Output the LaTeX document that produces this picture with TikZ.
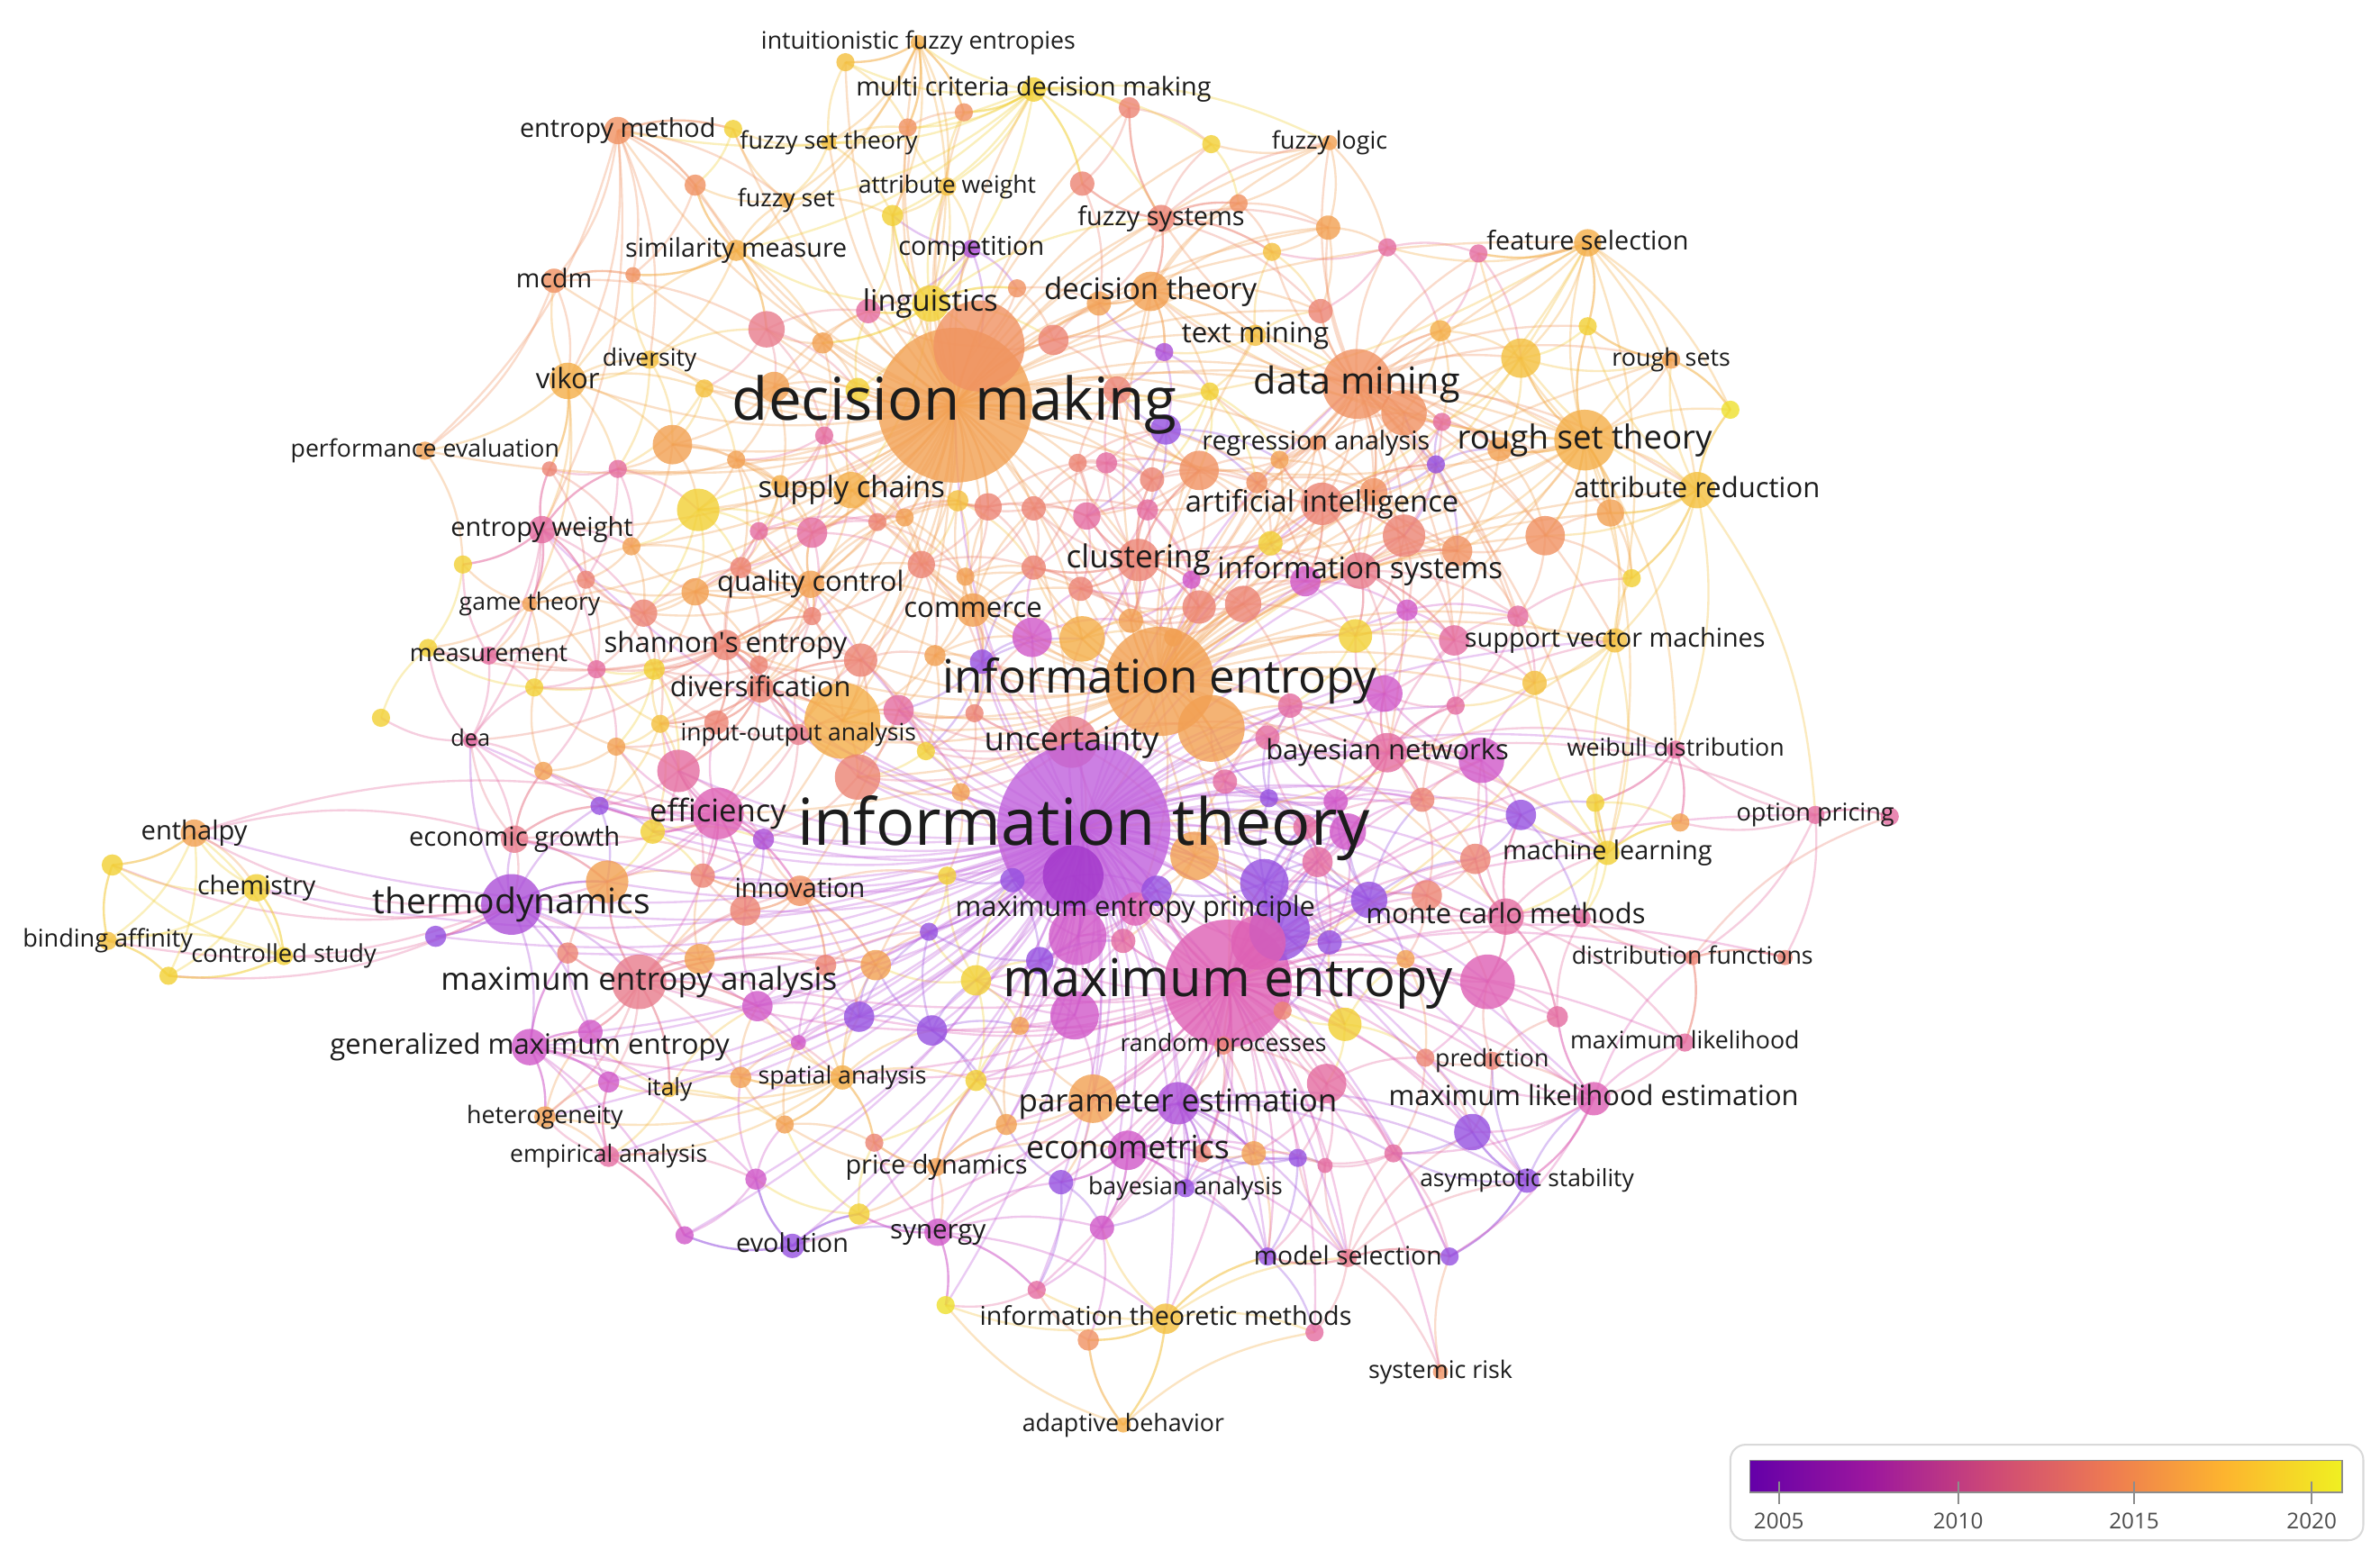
\documentclass[tikz,border=0pt]{standalone}
\usepackage{fontspec}
\usepackage{graphicx}
\setmainfont{Open Sans}
\definecolor{vA}{HTML}{9550E0}
\definecolor{vB}{HTML}{AC4FD8}
\definecolor{vC}{HTML}{C060DC}
\definecolor{vD}{HTML}{A236CA}
\definecolor{mA}{HTML}{D058C8}
\definecolor{mB}{HTML}{DE60B4}
\definecolor{kA}{HTML}{E46CA0}
\definecolor{kB}{HTML}{E87C8C}
\definecolor{rA}{HTML}{EC8474}
\definecolor{rB}{HTML}{F09262}
\definecolor{oA}{HTML}{F2A052}
\definecolor{oB}{HTML}{F4AE48}
\definecolor{yA}{HTML}{F4C03E}
\definecolor{yB}{HTML}{F2D034}
\definecolor{yC}{HTML}{EEE02E}
\definecolor{lgA}{HTML}{6400A8}
\definecolor{lgB}{HTML}{9C179E}
\definecolor{lgC}{HTML}{CC4778}
\definecolor{lgD}{HTML}{ED7953}
\definecolor{lgE}{HTML}{FDB42F}
\definecolor{lgF}{HTML}{F0F021}
\definecolor{txt}{HTML}{1C1C1C}
\pgfdeclarehorizontalshading{plasma}{100bp}{color(0bp)=(lgA); color(25bp)=(lgA); color(35bp)=(lgB); color(45bp)=(lgC); color(55bp)=(lgD); color(65bp)=(lgE); color(75bp)=(lgF); color(100bp)=(lgF)}
\pgfdeclarelayer{edgelayer}
\pgfsetlayers{edgelayer,main}
\tikzset{
  dot/.style={circle, inner sep=0pt, outer sep=0pt, draw=none, fill opacity=0.8},
  lab/.style={inner sep=0pt, outer sep=0pt, text=txt, anchor=center},
  edge/.style={line width=1.4pt, opacity=0.33},
}
\newcommand{\lb}[3]{\node[lab] (#1-t) at (#1.center) {\resizebox{#2pt}{!}{#3\vphantom{lg}}};}
\newcommand{\hub}[3]{\foreach \t in {#3}{\draw[edge, draw=#2] (#1.center) to[bend left=16] (\t.center);}}
\def\allnodes{%
ifent/605/28/5/oB, mcd/681/59/8/yB, entm/407/86/9/rB, fst/546/94/5/yA, flog/876/94/5/oA,
fset/518/132/5/oB, attw/624/123/6/yA, fsys/765/144/9/rA, simm/485/165/7/oB, comp/640/164/6/vB,
fsel/1046/160/9/oB, mcdm/365/185/8/rB, dtheory/758/192/13/oA, ling/613/200/12/yB, tmin/827/221/7/yA,
div/428/237/6/yA, rsets/1101/237/6/oA, vikor/374/251/12/oB, dm/629/267/51/oA, dmin/894/253/23/rB,
rega/867/292/5/rB, rst/1044/290/20/oB, perf/280/297/6/oA, supc/561/323/12/oB, attr/1118/323/12/yA,
ai/871/332/14/rA, entw/357/349/9/kA, clus/750/369/14/rA, isys/896/376/12/kB, qc/534/385/9/oA,
game/349/398/5/oA, comm/641/402/11/oA, svm/1064/422/8/yA, meas/322/432/6/kA, shan/478/425/10/rA,
ie/764/449/36/oA, divers/501/454/9/rA, ioa/526/484/7/kB, unc/706/489/17/kB, dea/310/488/5/kA,
bnet/914/496/13/kA, weib/1104/494/6/kA, eff/473/536/17/mB, it/714/546/57/vC, opt/1196/537/6/kA,
enth/128/549/9/oA, egrow/339/553/9/kB, ml/1059/562/8/yB, chem/169/585/9/yB, thermo/337/596/20/vB,
innov/527/587/10/rB, mep/748/599/11/mB, mcm/992/604/12/kA, bind/71/620/6/yA, cstudy/187/630/6/yB,
dfun/1115/631/5/rA, mea/421/647/18/kB, me/809/648/42/mB, gme/349/690/12/mA, rproc/806/689/6/rA,
mlik/1110/687/6/kA, pred/983/699/6/rA, italy/441/718/5/yA, spat/555/710/8/oB, mle/1050/724/11/mB,
pest/776/727/14/vB, het/359/736/7/oA, econ/743/758/13/mA, emp/401/762/7/kA, pdyn/617/769/6/oA,
asym/1006/778/8/vA, bana/781/783/6/vA, syn/618/812/9/mA, evol/522/821/8/vA, msel/888/829/6/kB,
itm/768/869/10/yA, srisk/949/904/5/rB, adapt/740/939/5/oB,
u1/557/41/6/yA, u2/483/85/6/yB, u3/598/84/6/rB, u4/635/74/6/rB, u5/744/71/7/rA, u6/798/95/6/yB,
u7/458/122/7/rB, u8/588/142/7/yB, u9/713/121/8/rA, u10/816/134/6/rB, u11/875/150/8/oA, u12/914/163/6/kA,
u13/974/167/6/kA, u14/838/166/6/yA, u15/670/190/6/rB, u16/694/224/10/rA, u17/542/226/7/oA, u18/505/217/12/kB,
u19/870/205/8/rA, u20/767/232/6/vB, u21/797/258/6/yB, u22/949/218/7/oB, u23/1046/215/6/yB, u24/1002/236/13/yA,
u25/1140/270/6/yC, u26/645/228/30/rB, u27/417/181/5/rB, u30/510/255/10/oA, u31/464/256/6/yA, u32/543/287/6/kA,
u33/443/293/13/oA, u34/485/303/6/oA, u35/407/309/6/kA, u36/362/309/5/rA, u37/460/336/14/yB, u38/514/319/6/oB,
u39/500/350/6/kA, u40/535/351/10/kA, u41/578/344/6/rA, u42/596/341/6/oA, u43/651/334/9/rA, u44/681/335/8/rA,
u45/710/305/6/rA, u46/729/305/7/kA, u47/759/316/8/rA, u48/790/310/13/rB, u49/768/283/10/vA, u50/828/318/7/rB,
u51/843/303/6/oA, u52/946/306/6/vA, u53/950/278/6/kA, u54/925/272/15/rB, u55/988/296/8/oA, u56/1018/353/13/rB,
u57/1061/338/9/oA, u58/960/363/10/rB, u59/925/353/14/rA, u60/905/324/9/rB, u61/736/257/9/rA, u62/565/257/8/yB,
u63/572/205/8/kA, u64/724/200/8/oA, u65/631/330/7/yA, u66/716/340/9/kA, u67/756/336/7/kA, u68/458/390/9/oA,
u69/416/360/6/oA, u70/424/404/9/rA, u71/386/382/6/rA, u72/305/372/6/yB, u73/488/374/7/rA, u74/607/372/9/rA,
u75/636/380/6/oA, u76/567/435/11/rA, u77/535/406/6/rA, u78/500/438/6/rA, u79/472/476/8/rA, u80/435/477/6/yA,
u81/431/441/7/yB, u82/393/441/6/kA, u83/406/492/6/oA, u84/358/508/6/oA, u85/251/473/6/yB, u86/616/432/7/oA,
u87/647/436/8/vA, u88/642/470/6/rA, u89/555/475/25/oB, u90/592/468/10/kA, u91/610/495/6/yB, u92/633/522/6/oA,
u93/565/512/15/rA, u94/447/508/14/kA, u95/395/531/6/vA, u96/430/548/8/yB, u97/503/553/7/vB,
u100/707/577/20/vD, u101/787/564/16/oA, u102/710/617/19/mA, u103/708/669/16/mA, u104/843/613/20/vA,
u105/833/582/16/vA, u106/902/593/12/vA, u107/829/621/18/mB, u108/886/675/11/yB, u109/874/714/13/kA,
u110/720/724/16/oA, u111/880/528/8/mA, u112/836/526/6/vA, u113/807/515/8/kA, u114/860/545/8/kA,
u115/888/548/12/mA, u116/937/527/8/rA, u117/976/501/15/mA, u118/1002/537/10/vA, u119/1051/529/6/yB,
u120/1107/542/6/oA, u121/1245/538/6/kA, u122/972/566/10/rA, u123/940/590/10/rA, u124/876/621/8/vA,
u125/868/568/10/kA, u126/980/647/18/mB, u127/926/632/6/oA, u128/845/666/6/rA, u129/939/697/6/rA,
u130/970/746/12/vA, u131/918/760/6/kA, u132/1026/670/7/kA, u133/1176/631/5/rA, u134/855/763/6/vA,
u135/826/760/8/oA, u136/873/768/5/kA, u137/792/760/6/rA, u138/699/779/8/vA, u139/726/809/8/mA,
u140/835/828/6/vA, u141/955/828/6/vA, u142/866/878/6/kA, u143/717/883/7/rB, u144/683/850/6/kA,
u145/623/860/6/yC, u146/566/800/7/yB, u147/498/777/7/mA, u148/451/814/6/mA, u149/517/741/6/oA,
u150/488/710/7/oA, u151/401/713/7/mA, u152/389/680/8/mA, u153/374/628/7/rA, u154/287/617/7/vA,
u155/499/663/10/mA, u156/526/687/5/mA, u157/566/670/10/vA, u158/614/679/10/vA, u159/643/646/10/yB,
u160/643/712/7/yB, u161/663/741/7/oA, u162/576/753/6/rA, u163/672/676/6/oA, u164/544/636/7/rA,
u165/577/636/10/oA, u166/461/632/10/oA, u167/491/600/10/rA, u168/400/581/14/oA, u169/463/577/8/rA,
u170/667/580/8/vA, u171/685/633/9/vA, u172/740/620/8/kA, u173/74/570/7/yB, u174/111/643/6/yB,
u175/762/587/10/vA, u176/798/480/22/oA, u177/713/421/15/oB, u178/680/420/13/mA, u179/819/398/12/rA,
u180/790/400/11/rA, u181/785/382/6/mA, u182/860/383/10/mA, u183/837/358/8/yB, u184/927/402/7/mA,
u185/893/419/11/yB, u186/958/422/10/kA, u187/1000/406/7/kA, u188/1011/450/8/yA, u189/1075/381/6/yB,
u190/959/465/6/kA, u191/912/457/12/mA, u192/850/465/8/kA, u193/835/486/8/kA, u194/681/374/8/rA,
u195/712/388/8/rA, u196/745/409/8/oA, u197/773/420/6/oA, u199/624/577/6/yB, u200/612/614/6/vA,
u202/352/453/6/yB, u203/282/427/6/yB, u204/1042/605/6/kA}
\begin{document}
\begin{tikzpicture}[x=1pt,y=-1pt]
\useasboundingbox (0,0) rectangle (1568,1027);
% ---------- nodes: large ones first, small ones on top ----------
\foreach \nm/\x/\y/\r/\c in \allnodes {\ifnum\r>14 \node[dot, fill=\c, minimum size=\r*2pt] (\nm) at (\x,\y) {};\fi}
\foreach \nm/\x/\y/\r/\c in \allnodes {\ifnum\r<15 \node[dot, fill=\c, minimum size=\r*2pt] (\nm) at (\x,\y) {};\fi}
% ---------- edges ----------
\begin{pgfonlayer}{edgelayer}
\fill[white] (0,0) rectangle (1568,1027);
% local links between neighbouring keywords
\foreach \na/\xa/\ya/\ra/\ca [count=\i] in \allnodes {
  \foreach \nb/\xb/\yb/\rb/\cb [count=\j] in \allnodes {
    \ifnum\j>\i
      \ifnum\numexpr(\xa-\xb)*(\xa-\xb)+(\ya-\yb)*(\ya-\yb)\relax<6400
        \draw[edge, draw=\ca] (\na.center) to[bend left=16] (\nb.center);
      \fi
    \fi
  }
}
\hub{dm}{oA}{ifent,mcd,entm,fst,fset,attw,fsys,simm,comp,mcdm,dtheory,ling,tmin,div,vikor,dmin,rega,perf,supc,ai,entw,clus,isys,qc,game,comm,shan,ie,divers,unc,rst,meas,flog,fsel,eff,innov,mea,u1,u2,u3,u4,u5,u6,u7,u8,u9,u10,u11,u14,u15,u16,u17,u18,u19,u21,u27,u30,u31,u33,u34,u35,u37,u38,u40,u41,u42,u43,u44,u45,u47,u48,u54,u61,u62,u63,u64,u65,u68,u69,u73,u74,u76,u89,u177,u101}
\hub{ie}{oA}{it,me,dmin,rst,attr,ai,clus,isys,comm,shan,divers,unc,bnet,svm,fsel,rsets,tmin,dtheory,supc,qc,ml,weib,mcm,eff,mep,ioa,u22,u24,u48,u54,u55,u56,u57,u58,u59,u60,u74,u76,u86,u87,u89,u90,u93,u176,u177,u178,u179,u180,u182,u183,u185,u186,u187,u188,u191,u192,u193,u194,u195,u196,u197}
\hub{me}{mB}{it,mep,mcm,pest,econ,mle,mlik,dfun,pred,rproc,asym,bana,msel,itm,srisk,bnet,mea,gme,syn,evol,pdyn,spat,thermo,unc,ml,weib,opt,u104,u105,u106,u107,u108,u109,u110,u115,u117,u118,u122,u123,u124,u125,u126,u127,u128,u129,u130,u131,u132,u133,u134,u135,u136,u137,u138,u139,u140,u141,u142,u144,u157,u158,u159,u160,u161,u163,u171,u172,u175}
\hub{it}{vC}{dm,unc,eff,thermo,mea,gme,mep,mcm,bnet,pest,econ,mle,dmin,clus,ai,isys,comm,shan,divers,ioa,innov,egrow,spat,syn,evol,msel,itm,asym,bana,pdyn,rproc,pred,ml,weib,svm,qc,entw,dea,emp,het,italy,chem,enth,u87,u88,u90,u91,u92,u93,u94,u95,u96,u97,u100,u101,u102,u103,u104,u105,u106,u107,u110,u111,u112,u113,u114,u115,u116,u117,u118,u122,u124,u125,u126,u130,u138,u139,u140,u141,u144,u145,u146,u147,u148,u150,u151,u152,u153,u154,u155,u156,u157,u158,u159,u160,u161,u162,u163,u164,u165,u166,u167,u168,u169,u170,u171,u172,u175,u176,u178,u182,u184,u190,u191,u192,u193,u199,u200}
\hub{dmin}{rB}{rst,attr,fsel,rsets,tmin,ai,isys,clus,svm,rega,fsys,flog,dtheory,bnet,ml,u11,u12,u13,u14,u19,u22,u23,u24,u53,u54,u55,u56,u57,u58,u59,u60,u186,u187,u188}
\hub{rst}{oB}{attr,fsel,rsets,svm,ml,isys,ai,weib,tmin,dtheory,u13,u22,u23,u24,u25,u55,u56,u57,u58,u188,u189}
\hub{fsel}{oB}{rsets,attr,svm,u12,u13,u22,u23,u24,u25}
\hub{attr}{yA}{rsets,svm,weib,opt,u23,u24,u25,u56,u57,u189}
\hub{rsets}{yA}{u23,u24,u25}
\hub{mcd}{yB}{ifent,fst,attw,fset,flog,fsys,ling,simm,entm,u1,u3,u4,u5,u6,u8,u9}
\hub{ifent}{oB}{fst,fset,attw,ling,simm,u1,u3,u4,u8}
\hub{entm}{rB}{mcdm,vikor,fset,entw,perf,div,simm,u2,u7,u27}
\hub{vikor}{oB}{mcdm,perf,div,entw,simm,game,u31,u33,u36}
\hub{mcdm}{rB}{perf,u18,u27}
\hub{ling}{yB}{attw,comp,fsys,simm,supc,u8,u15,u16,u17,u63}
\hub{fsys}{rA}{flog,dtheory,u5,u9,u10,u11,u14,u19}
\hub{dtheory}{oA}{tmin,flog,u10,u11,u16,u19,u20,u64}
\hub{simm}{oB}{fset,div,u7,u17,u18,u27}
\hub{entw}{kA}{meas,game,dea,u35,u36,u70,u71,u72,u82}
\hub{qc}{oA}{shan,comm,u39,u40,u68,u70,u73,u77}
\hub{shan}{rA}{divers,meas,ioa,dea,u76,u77,u78,u79,u81,u82,u202,u203}
\hub{divers}{rA}{ioa,eff,u76,u79,u80,u89,u94}
\hub{unc}{kB}{comm,bnet,u88,u89,u90,u91,u92,u93,u101,u113,u176}
\hub{eff}{mB}{egrow,thermo,innov,mea,dea,u83,u84,u94,u95,u96,u97,u167,u168,u169}
\hub{thermo}{vB}{egrow,mea,gme,dea,u95,u152,u153,u154,u168}
\hub{thermo}{kA}{chem,enth,bind,cstudy,u173,u174}
\hub{chem}{yB}{enth,bind,cstudy,u173,u174}
\hub{enth}{yB}{bind,cstudy,u173,u174}
\hub{bind}{yB}{cstudy,u173,u174}
\hub{cstudy}{yB}{u173,u174}
\hub{enth}{kA}{egrow,eff}
\hub{egrow}{kB}{innov,dea,u84,u95,u168}
\hub{mea}{kB}{gme,innov,spat,het,italy,u150,u152,u153,u155,u164,u165,u166,u167,u168}
\hub{gme}{mA}{het,emp,italy,u147,u148,u151,u152,u153}
\hub{innov}{rB}{u157,u164,u165,u167,u169,u199,u200}
\hub{spat}{oB}{italy,het,emp,u149,u150,u160,u162}
\hub{emp}{kA}{het,u147,u148,u151}
\hub{evol}{vA}{syn,u146,u147,u148}
\hub{syn}{mA}{pdyn,itm,u138,u139,u144,u145,u146}
\hub{pdyn}{oA}{econ,u149,u160,u161,u162}
\hub{econ}{mA}{bana,pest,msel,u134,u135,u137,u138,u139,u140}
\hub{pest}{vB}{bana,rproc,msel,asym,u110,u130,u131,u134,u135,u137,u140}
\hub{itm}{yA}{adapt,msel,u140,u142,u143,u144,u145}
\hub{adapt}{oB}{u142,u143,u145}
\hub{msel}{kB}{srisk,asym,u130,u140,u141}
\hub{asym}{vA}{mle,pred,u130,u131,u141}
\hub{mle}{mB}{mlik,pred,dfun,asym,u126,u129,u130,u131,u132,u141}
\hub{mcm}{kA}{dfun,mlik,ml,u106,u117,u118,u122,u123,u126,u132,u204}
\hub{bnet}{kA}{weib,ml,svm,opt,u111,u115,u116,u117,u118,u186,u190,u191}
\hub{opt}{kA}{weib,dfun,u120,u121,u133}
\hub{weib}{kA}{ml,u119,u120}
\hub{ml}{yB}{svm,u119,u120,u188}
\hub{dfun}{rA}{mlik,u121,u133}
\hub{ai}{rA}{isys,clus,u50,u51,u52,u58,u59,u60,u179,u182,u183}
\hub{clus}{rA}{isys,u47,u48,u66,u67,u180,u181,u194,u195,u196}
\hub{isys}{kB}{u58,u59,u184,u185,u186,u187,u191}
\hub{rst}{oA}{it,dm,clus}
\hub{fsel}{yA}{ie,dm,ai}
\hub{svm}{yA}{me,it,ml}
\end{pgfonlayer}
% ---------- labels ----------
\lb{ifent}{207}{intuitionistic fuzzy entropies}
\lb{mcd}{234}{multi criteria decision making}
\lb{entm}{129}{entropy method}
\lb{fst}{117}{fuzzy set theory}
\lb{flog}{76}{fuzzy logic}
\lb{fset}{64}{fuzzy set}
\lb{attw}{117}{attribute weight}
\lb{fsys}{110}{fuzzy systems}
\lb{simm}{146}{similarity measure}
\lb{comp}{96}{competition}
\lb{fsel}{133}{feature selection}
\lb{mcdm}{50}{mcdm}
\lb{dtheory}{140}{decision theory}
\lb{ling}{89}{linguistics}
\lb{tmin}{97}{text mining}
\lb{div}{62}{diversity}
\lb{rsets}{78}{rough sets}
\lb{vikor}{42}{vikor}
\lb{dm}{293}{decision making}
\lb{dmin}{136}{data mining}
\lb{rega}{150}{regression analysis}
\lb{rst}{168}{rough set theory}
\lb{perf}{177}{performance evaluation}
\lb{supc}{123}{supply chains}
\lb{attr}{162}{attribute reduction}
\lb{ai}{180}{artificial intelligence}
\lb{entw}{120}{entropy weight}
\lb{clus}{95}{clustering}
\lb{isys}{188}{information systems}
\lb{qc}{123}{quality control}
\lb{game}{93}{game theory}
\lb{comm}{91}{commerce}
\lb{svm}{198}{support vector machines}
\lb{meas}{104}{measurement}
\lb{shan}{160}{shannon\textquotesingle s entropy}
\lb{ie}{286}{information entropy}
\lb{divers}{119}{diversification}
\lb{ioa}{155}{input-output analysis}
\lb{unc}{115}{uncertainty}
\lb{dea}{26}{dea}
\lb{bnet}{160}{bayesian networks}
\lb{weib}{143}{weibull distribution}
\lb{eff}{90}{efficiency}
\lb{it}{377}{information theory}
\lb{opt}{104}{option pricing}
\lb{enth}{70}{enthalpy}
\lb{egrow}{139}{economic growth}
\lb{ml}{138}{machine learning}
\lb{chem}{78}{chemistry}
\lb{thermo}{183}{thermodynamics}
\lb{innov}{86}{innovation}
\lb{mep}{237}{maximum entropy principle}
\lb{mcm}{184}{monte carlo methods}
\lb{bind}{112}{binding affinity}
\lb{cstudy}{122}{controlled study}
\lb{dfun}{159}{distribution functions}
\lb{mea}{261}{maximum entropy analysis}
\lb{me}{296}{maximum entropy}
\lb{gme}{263}{generalized maximum entropy}
\lb{rproc}{136}{random processes}
\lb{mlik}{151}{maximum likelihood}
\lb{pred}{75}{prediction}
\lb{italy}{30}{italy}
\lb{spat}{111}{spatial analysis}
\lb{mle}{270}{maximum likelihood estimation}
\lb{pest}{210}{parameter estimation}
\lb{het}{103}{heterogeneity}
\lb{econ}{134}{econometrics}
\lb{emp}{130}{empirical analysis}
\lb{pdyn}{120}{price dynamics}
\lb{asym}{141}{asymptotic stability}
\lb{bana}{128}{bayesian analysis}
\lb{syn}{63}{synergy}
\lb{evol}{74}{evolution}
\lb{msel}{124}{model selection}
\lb{itm}{245}{information theoretic methods}
\lb{srisk}{95}{systemic risk}
\lb{adapt}{133}{adaptive behavior}
% ---------- legend ----------
\node[draw=black!15, line width=1.2pt, rounded corners=10pt, minimum width=417pt, minimum height=63pt, inner sep=0pt] (legendbox) at (1348.5,983.5) {};
\node[shade, shading=plasma, draw=black!45, line width=0.8pt, minimum width=390pt, minimum height=21pt, inner sep=0pt] (bar) at (1348,973) {};
\foreach \xx/\yr in {1172/2005, 1290/2010, 1406/2015, 1523/2020}{
  \draw[black!45, line width=1.3pt] (\xx,976) -- (\xx,991);
  \node[lab, text=black!70] (yr\yr) at (\xx,1002) {\resizebox{33pt}{!}{\yr}};
}
\end{tikzpicture}
\end{document}
